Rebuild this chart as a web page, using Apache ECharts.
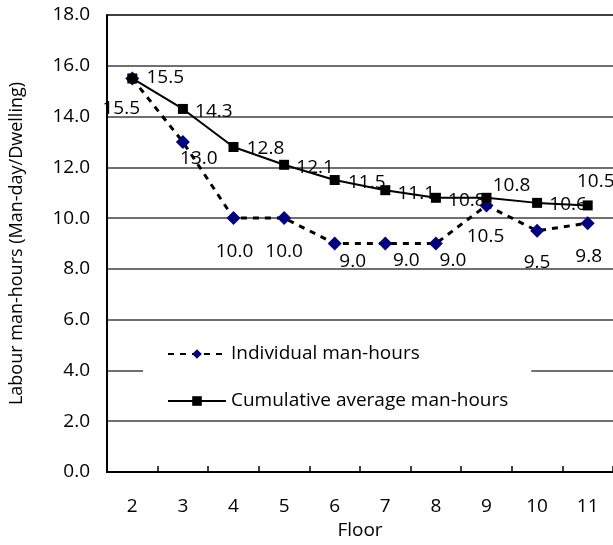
<!DOCTYPE html>
<html>
<head>
<meta charset="utf-8">
<script src="https://cdn.jsdelivr.net/npm/echarts@6/dist/echarts.min.js"></script>
<style>
html,body{margin:0;padding:0;background:#fff;}
#chart{width:613px;height:545px;}
</style>
</head>
<body>
<div id="chart"></div>
<script>
const floors = ['2','3','4','5','6','7','8','9','10','11'];
const individual = [15.5, 13.0, 10.0, 10.0, 9.0, 9.0, 9.0, 10.5, 9.5, 9.8];
const cumulative = [15.5, 14.3, 12.8, 12.1, 11.5, 11.1, 10.8, 10.8, 10.6, 10.5];
const yTicks = [0, 2, 4, 6, 8, 10, 12, 14, 16, 18];

// label placement (style only)
const indOffsets = [[-11,30],[16,17],[1,33],[0,33],[18,18],[21,17],[17,17],[-1,31],[0,32],[1,33]];
const cumOffsets = [[33,-1],[31,3],[32,2],[31,3],[32,3],[31,3],[31,3],[25,-12],[31,2],[8,-24]];

const FONT = 'Open Sans';
const FS = 19;

function withLabels(vals, offs) {
  return vals.map((v, i) => ({
    value: v,
    label: { offset: offs[i] }
  }));
}

const chart = echarts.init(document.getElementById('chart'), null, {renderer: 'canvas'});
chart.setOption({
  animation: false,
  backgroundColor: '#fff',
  textStyle: { fontFamily: FONT, color: '#000' },
  grid: { left: 107, top: 15, width: 508, height: 458, containLabel: false },
  xAxis: {
    type: 'category',
    data: floors,
    boundaryGap: true,
    name: 'Floor',
    nameLocation: 'middle',
    nameGap: 49,
    nameTextStyle: { fontFamily: FONT, fontSize: FS, color: '#000' },
    axisLine: { lineStyle: { color: '#000', width: 2 } },
    axisTick: { show: true, inside: true, length: 6, lineStyle: { color: '#000', width: 1.5 } },
    axisLabel: { fontFamily: FONT, fontSize: FS, color: '#000', margin: 25 },
    splitLine: { show: false }
  },
  yAxis: {
    type: 'value',
    min: yTicks[0],
    max: yTicks[yTicks.length - 1],
    interval: yTicks[1] - yTicks[0],
    name: 'Labour man-hours (Man-day/Dwelling)',
    nameLocation: 'middle',
    nameGap: 81,
    nameTextStyle: { fontFamily: FONT, fontSize: FS - 1, color: '#000' },
    axisLine: { show: true, lineStyle: { color: '#000', width: 2 } },
    axisTick: { show: false },
    axisLabel: {
      fontFamily: FONT, fontSize: FS, color: '#000', margin: 17,
      formatter: v => v.toFixed(1)
    },
    splitLine: {
      show: true,
      lineStyle: {
        color: ['#404040','#404040','#404040','#404040','#404040','#404040','#404040','#404040','#404040','#000'],
        width: 1.5
      }
    }
  },
  legend: {
    orient: 'vertical',
    left: 143,
    top: 334,
    backgroundColor: '#fff',
    padding: [10, 23, 8, 24],
    itemWidth: 58,
    itemHeight: 12,
    itemGap: 27,
    textStyle: { fontFamily: FONT, fontSize: FS, color: '#000', lineHeight: 20 },
    data: ['Individual man-hours', 'Cumulative average man-hours']
  },
  series: [
    {
      name: 'Individual man-hours',
      type: 'line',
      data: withLabels(individual, indOffsets),
      symbol: 'diamond',
      symbolSize: 14,
      itemStyle: { color: '#000080' },
      lineStyle: { color: '#000', width: 3, type: [6, 6] },
      label: {
        show: true, position: 'inside',
        fontFamily: FONT, fontSize: FS, color: '#000',
        formatter: p => p.value.toFixed(1)
      },
      z: 3
    },
    {
      name: 'Cumulative average man-hours',
      type: 'line',
      data: withLabels(cumulative, cumOffsets),
      symbol: 'rect',
      symbolSize: 10,
      itemStyle: { color: '#000' },
      lineStyle: { color: '#000', width: 2 },
      label: {
        show: true, position: 'inside',
        fontFamily: FONT, fontSize: FS, color: '#000',
        formatter: p => p.value.toFixed(1)
      },
      z: 4
    }
  ]
});
</script>
</body>
</html>
